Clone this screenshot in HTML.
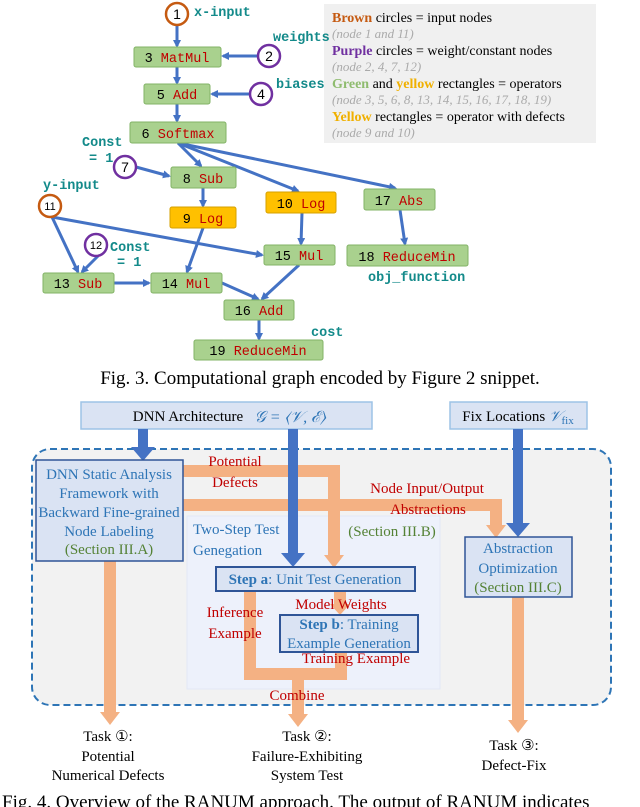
<!DOCTYPE html>
<html><head><meta charset="utf-8"><style>
body{margin:0;background:#fff;}
svg{display:block;}
.m{font-family:"Liberation Mono",monospace;font-size:13.5px;}
.s{font-family:"Liberation Serif",serif;}
</style></head><body>
<svg width="640" height="807" viewBox="0 0 640 807" xmlns="http://www.w3.org/2000/svg">
<defs>
<marker id="ab" markerWidth="8" markerHeight="8" refX="6" refY="4" orient="auto" markerUnits="userSpaceOnUse"><path d="M0,0 L8,4 L0,8 z" fill="#4472c4"/></marker>
</defs>
<rect x="324" y="4" width="272" height="139" fill="#f0f0f0"/>
<g class="s" font-size="14">
<text x="332" y="22"><tspan fill="#c55a11" font-weight="bold">Brown</tspan> circles = input nodes</text>
<text x="332" y="38" fill="#aaa" font-style="italic" font-size="13">(node 1 and 11)</text>
<text x="332" y="55"><tspan fill="#7030a0" font-weight="bold">Purple</tspan> circles = weight/constant nodes</text>
<text x="332" y="71" fill="#aaa" font-style="italic" font-size="13">(node 2, 4, 7, 12)</text>
<text x="332" y="88"><tspan fill="#8fbc6f" font-weight="bold">Green</tspan> and <tspan fill="#f0b000" font-weight="bold">yellow</tspan> rectangles = operators</text>
<text x="332" y="104" fill="#aaa" font-style="italic" font-size="13">(node 3, 5, 6, 8, 13, 14, 15, 16, 17, 18, 19)</text>
<text x="332" y="121"><tspan fill="#f0b000" font-weight="bold">Yellow</tspan> rectangles = operator with defects</text>
<text x="332" y="137" fill="#aaa" font-style="italic" font-size="13">(node 9 and 10)</text>
</g>
<g stroke="#4472c4" stroke-width="3" fill="none" marker-end="url(#ab)">
<line x1="177" y1="25" x2="177" y2="46"/>
<line x1="258" y1="56" x2="223" y2="56"/>
<line x1="177" y1="67" x2="177" y2="83"/>
<line x1="250" y1="94" x2="212" y2="94"/>
<line x1="177" y1="104" x2="177" y2="121"/>
<line x1="178" y1="143" x2="201" y2="166"/>
<line x1="178" y1="143" x2="298" y2="191"/>
<line x1="178" y1="143" x2="395" y2="188"/>
<line x1="136" y1="167" x2="169" y2="176"/>
<line x1="203" y1="188" x2="203" y2="206"/>
<line x1="203" y1="228" x2="187" y2="272"/>
<line x1="302" y1="213" x2="301" y2="244"/>
<line x1="400" y1="210" x2="405" y2="244"/>
<line x1="52" y1="217" x2="78" y2="272"/>
<line x1="52" y1="217" x2="262" y2="255"/>
<line x1="98" y1="256" x2="82" y2="272"/>
<line x1="114" y1="283" x2="149" y2="283"/>
<line x1="222" y1="283" x2="258" y2="299"/>
<line x1="299" y1="265" x2="262" y2="299"/>
<line x1="259" y1="320" x2="259" y2="339"/>
</g>
<g fill="#fff" stroke-width="2.5">
<circle cx="177" cy="14" r="11" stroke="#c55a11"/>
<circle cx="269" cy="56" r="11" stroke="#7030a0"/>
<circle cx="261" cy="94" r="11" stroke="#7030a0"/>
<circle cx="125" cy="167" r="11" stroke="#7030a0"/>
<circle cx="50" cy="206" r="11" stroke="#c55a11"/>
<circle cx="96" cy="245" r="11" stroke="#7030a0"/>
</g>
<g font-family="Liberation Sans,sans-serif" text-anchor="middle">
<text x="177" y="19" font-size="14">1</text>
<text x="269" y="61" font-size="14">2</text>
<text x="261" y="99" font-size="14">4</text>
<text x="125" y="172" font-size="14">7</text>
<text x="50" y="210" font-size="11">11</text>
<text x="96" y="249" font-size="11">12</text>
</g>
<g stroke="#82b366" stroke-width="1" fill="#a9d18e">
<rect x="134" y="47" width="87" height="20" rx="2"/>
<rect x="144" y="84" width="66" height="20" rx="2"/>
<rect x="130" y="122" width="96" height="21" rx="2"/>
<rect x="171" y="167" width="65" height="21" rx="2"/>
<rect x="364" y="189" width="71" height="21" rx="2"/>
<rect x="264" y="245" width="71" height="20" rx="2"/>
<rect x="347" y="245" width="121" height="21" rx="2"/>
<rect x="43" y="273" width="71" height="20" rx="2"/>
<rect x="151" y="273" width="71" height="20" rx="2"/>
<rect x="224" y="300" width="70" height="20" rx="2"/>
<rect x="194" y="340" width="129" height="20" rx="2"/>
</g>
<g stroke="#d6a000" fill="#ffc000">
<rect x="170" y="207" width="66" height="21" rx="2"/>
<rect x="266" y="192" width="70" height="21" rx="2"/>
</g>
<g class="m" text-anchor="middle" fill="#c00000">
<text x="177" y="62"><tspan fill="#000">3</tspan> MatMul</text>
<text x="177" y="99"><tspan fill="#000">5</tspan> Add</text>
<text x="178" y="138"><tspan fill="#000">6</tspan> Softmax</text>
<text x="203" y="183"><tspan fill="#000">8</tspan> Sub</text>
<text x="203" y="223"><tspan fill="#000">9</tspan> Log</text>
<text x="301" y="208"><tspan fill="#000">10</tspan> Log</text>
<text x="399" y="205"><tspan fill="#000">17</tspan> Abs</text>
<text x="299" y="260"><tspan fill="#000">15</tspan> Mul</text>
<text x="407" y="261"><tspan fill="#000">18</tspan> ReduceMin</text>
<text x="78" y="288"><tspan fill="#000">13</tspan> Sub</text>
<text x="186" y="288"><tspan fill="#000">14</tspan> Mul</text>
<text x="259" y="315"><tspan fill="#000">16</tspan> Add</text>
<text x="258" y="355"><tspan fill="#000">19</tspan> ReduceMin</text>
</g>
<g class="m" font-size="12" font-weight="bold" fill="#138a8a">
<text x="194" y="16">x-input</text>
<text x="273" y="41">weights</text>
<text x="276" y="88">biases</text>
<text x="82" y="146">Const</text>
<text x="89" y="162">= 1</text>
<text x="43" y="189">y-input</text>
<text x="110" y="251">Const</text>
<text x="117" y="266">= 1</text>
<text x="368" y="281">obj_function</text>
<text x="311" y="336">cost</text>
</g>
<text x="320" y="384" class="s" font-size="19" text-anchor="middle">Fig. 3.  Computational graph encoded by Figure 2 snippet.</text>

<rect x="81" y="402" width="291" height="27" fill="#dae3f3" stroke="#9dc3e6" stroke-width="1.5"/>
<rect x="450" y="402" width="137" height="27" fill="#dae3f3" stroke="#9dc3e6" stroke-width="1.5"/>
<text x="188" y="421" class="s" font-size="15" text-anchor="middle">DNN Architecture</text>
<text x="290" y="422" class="s" font-size="16" font-style="italic" fill="#2e75b6" text-anchor="middle">𝒢 = ⟨𝒱, ℰ⟩</text>
<text x="518" y="421" class="s" font-size="15" text-anchor="middle">Fix Locations <tspan font-style="italic" fill="#2e75b6">𝒱</tspan><tspan font-size="11" fill="#2e75b6" dy="3">fix</tspan></text>
<rect x="32" y="449" width="579" height="256" rx="18" fill="#f2f2f2" stroke="#2e75b6" stroke-width="2" stroke-dasharray="7,4"/>
<rect x="187" y="516" width="253" height="173" fill="#edf1fb" stroke="#e2e8f6"/>
<g fill="none" stroke="#f4b183" stroke-width="12">
<polyline points="183,471 334,471 334,555"/>
<polyline points="183,505 496,505 496,525"/>
<line x1="110" y1="561" x2="110" y2="712"/>
<line x1="340" y1="591" x2="340" y2="604"/>
<polyline points="250,591 250,674 341,674 341,652"/>
<line x1="298" y1="674" x2="298" y2="714"/>
<line x1="518" y1="597" x2="518" y2="720"/>
</g>
<g fill="#f4b183">
<polygon points="324,555 344,555 334,568"/>
<polygon points="486,525 506,525 496,538"/>
<polygon points="100,712 120,712 110,725"/>
<polygon points="330,604 350,604 340,615"/>
<polygon points="288,714 308,714 298,727"/>
<polygon points="508,720 528,720 518,733"/>
</g>
<g fill="#4472c4">
<rect x="138" y="429" width="10" height="20"/><polygon points="131,447 155,447 143,461"/>
<rect x="288" y="429" width="10" height="126"/><polygon points="281,553 305,553 293,567"/>
<rect x="513" y="429" width="10" height="96"/><polygon points="506,523 530,523 518,537"/>
</g>
<rect x="36" y="460" width="147" height="101" fill="#dae3f3" stroke="#2f5597" stroke-width="1.5"/>
<rect x="216" y="567" width="199" height="24" fill="#dae3f3" stroke="#2f5597" stroke-width="2"/>
<rect x="280" y="615" width="138" height="37" fill="#dae3f3" stroke="#2f5597" stroke-width="2"/>
<rect x="465" y="537" width="107" height="60" fill="#dae3f3" stroke="#2f5597" stroke-width="1.5"/>
<g class="s" font-size="15" text-anchor="middle" fill="#2e75b6">
<text x="109" y="479">DNN Static Analysis</text>
<text x="109" y="498">Framework with</text>
<text x="109" y="517">Backward Fine-grained</text>
<text x="109" y="536">Node Labeling</text>
<text x="109" y="554" fill="#548235">(Section III.A)</text>
<text x="315" y="584"><tspan font-weight="bold">Step a</tspan>: Unit Test Generation</text>
<text x="349" y="629"><tspan font-weight="bold">Step b</tspan>: Training</text>
<text x="349" y="648">Example Generation</text>
<text x="518" y="553">Abstraction</text>
<text x="518" y="573">Optimization</text>
<text x="518" y="592" fill="#548235">(Section III.C)</text>
<text x="392" y="536" fill="#548235">(Section III.B)</text>
<text x="193" y="534" text-anchor="start">Two-Step Test</text>
<text x="193" y="555" text-anchor="start">Genegation</text>
</g>
<g class="s" font-size="15" text-anchor="middle" fill="#c00000">
<text x="235" y="466">Potential</text>
<text x="235" y="487">Defects</text>
<text x="427" y="493">Node Input/Output</text>
<text x="428" y="514">Abstractions</text>
<text x="235" y="617">Inference</text>
<text x="235" y="638">Example</text>
<text x="341" y="609">Model Weights</text>
<text x="356" y="663">Training Example</text>
<text x="297" y="700">Combine</text>
</g>
<g class="s" font-size="15" text-anchor="middle">
<text x="108" y="741">Task ①:</text>
<text x="108" y="761">Potential</text>
<text x="108" y="780">Numerical Defects</text>
<text x="307" y="741">Task ②:</text>
<text x="307" y="761">Failure-Exhibiting</text>
<text x="307" y="780">System Test</text>
<text x="514" y="750">Task ③:</text>
<text x="514" y="770">Defect-Fix</text>
</g>
<text x="2" y="808" class="s" font-size="19">Fig. 4.  Overview of the RANUM approach. The output of RANUM indicates</text>
</svg>
</body></html>
